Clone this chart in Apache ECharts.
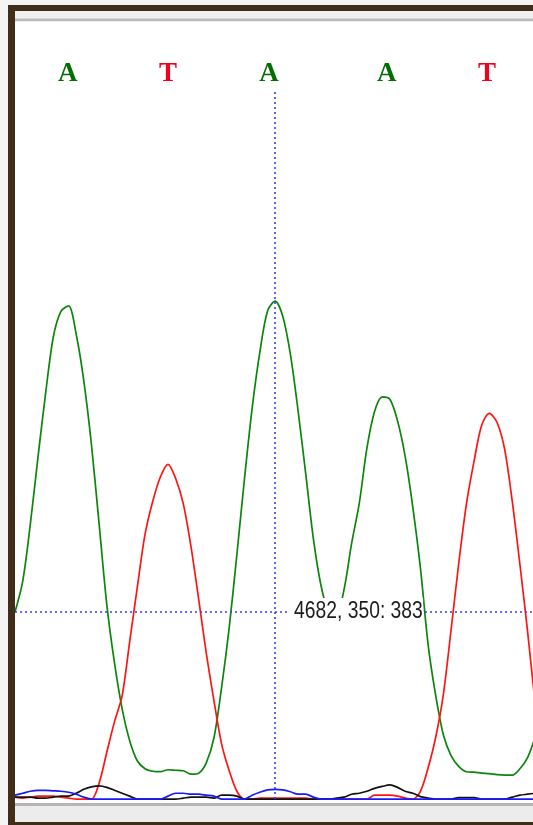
<!DOCTYPE html>
<html>
<head>
<meta charset="utf-8">
<script src="https://cdn.jsdelivr.net/npm/echarts@6/dist/echarts.min.js"></script>
<style>
  html, body { margin: 0; padding: 0; background: #f4f4f4; }
  #chart { width: 533px; height: 825px; }
</style>
</head>
<body>
<div id="chart"></div>
<script>
// Sequencing trace: one intensity sample per scan, four dye channels.
const scanStart = 4648;

// A channel (green)
const traceA = [383, 445, 562, 699, 830, 945, 998, 1009, 951, 855, 724, 562, 398, 279, 185, 119, 78, 62, 57, 56,
  60, 59, 58, 51, 53, 74, 125, 228, 351, 500, 656, 800, 914, 998, 1019, 988, 910, 795, 666, 533,
  437, 383, 379, 428, 523, 605, 718, 793, 823, 818, 774, 701, 597, 472, 316, 211, 131, 89, 67, 56,
  55, 53, 52, 50, 49, 49, 62, 85, 127];

// T channel (red)
const traceT = [4, 2, 4, 6, 6, 6, 4, 2, 0, 0, 0, 33, 96, 158, 211, 323, 435, 542, 609, 659,
  685, 656, 604, 517, 410, 299, 202, 113, 58, 16, 0, 0, 2, 2, 2, 2, 2, 2, 2, 0,
  0, 0, 0, 0, 0, 0, 0, 8, 8, 8, 6, 2, 0, 16, 64, 127, 215, 346, 482, 603,
  691, 765, 789, 771, 716, 609, 480, 343, 193];

// C channel (blue)
const traceC = [8, 12, 16, 18, 18, 17, 16, 14, 10, 4, 0, 0, 0, 0, 0, 0, 0, 0, 0, 0,
  6, 12, 12, 10, 10, 8, 6, 0, 0, 0, 0, 8, 14, 19, 20, 19, 15, 10, 10, 4,
  0, 0, 0, 0, 0, 0, 0, 0, 0, 0, 0, 0, 0, 0, 0, 0, 0, 0, 0, 0,
  0, 0, 0, 0, 0, 0, 0, 0, 0];

// G channel (black)
const traceG = [4, 4, 4, 2, 2, 4, 6, 6, 12, 20, 25, 27, 24, 18, 12, 6, 0, 0, 0, 0,
  0, 0, 2, 4, 4, 4, 2, 8, 8, 6, 0, 0, 0, 0, 0, 0, 0, 0, 0, 0,
  0, 0, 2, 4, 10, 12, 16, 22, 26, 29, 24, 16, 12, 5, 2, 0, 0, 0, 3, 3,
  3, 0, 0, 0, 0, 4, 8, 10, 12];

// Base calls and their scan positions
const baseCalls = ['A', 'T', 'A', 'A', 'T'];
const basePositions = [4654.9, 4668.0, 4681.2, 4696.6, 4709.7];
const callRowLevel = 1484;

// Cursor readout: scan, base number, intensity
const cursorScan = 4682;
const cursorBase = 350;
const cursorValue = 383;
const cursorTop = 1450;

const colors = { A: '#0c850c', T: '#ff1414', C: '#1818ff', G: '#111111' };
const callColors = { A: '#006e00', T: '#f0001e' };

function pairs(trace) {
  return trace.map((v, i) => [scanStart + i, v]);
}

const chart = echarts.init(document.getElementById('chart'), null, { renderer: 'canvas' });

function lineSeries(name, trace, color) {
  return {
    name: name,
    type: 'line',
    data: pairs(trace),
    showSymbol: false,
    symbol: 'none',
    smooth: 0.3,
    animation: false,
    lineStyle: { color: color, width: 1.7 },
    z: 3
  };
}

const option = {
  animation: false,
  backgroundColor: 'transparent',
  grid: {
    left: 15, right: 0, top: 21, bottom: 22,
    show: true, backgroundColor: '#ffffff', borderWidth: 0
  },
  xAxis: {
    type: 'value', min: scanStart, max: 4715.71,
    show: false, splitLine: { show: false }
  },
  yAxis: {
    type: 'value', min: -8, max: 1592,
    show: false, splitLine: { show: false }
  },
  series: [
    lineSeries('A', traceA, colors.A),
    lineSeries('T', traceT, colors.T),
    lineSeries('G', traceG, colors.G),
    Object.assign(lineSeries('C', traceC, colors.C), {
      markLine: {
        silent: true,
        symbol: 'none',
        label: { show: false },
        lineStyle: { color: '#3a3aff', type: [2, 3], width: 1.6 },
        data: [
          [{ coord: [cursorScan, 0] }, { coord: [cursorScan, cursorTop] }],
          [{ coord: [scanStart, cursorValue] }, { coord: [4715.71, cursorValue] }]
        ]
      }
    }),
    {
      name: 'calls',
      type: 'scatter',
      symbolSize: 1,
      itemStyle: { color: 'rgba(0,0,0,0)' },
      z: 5,
      data: baseCalls.map((b, i) => ({
        value: [basePositions[i], callRowLevel],
        label: {
          show: true,
          position: 'inside',
          formatter: b,
          color: callColors[b],
          opacity: 1,
          textBorderWidth: 0,
          fontFamily: 'Liberation Serif',
          fontWeight: 'bold',
          fontSize: 27
        }
      }))
    }
  ]
};

chart.setOption(option);

// Frame and the cursor readout box drawn over the traces
const p = chart.convertToPixel({ gridIndex: 0 }, [cursorScan, cursorValue]);
const W = 533, H = 825;
chart.setOption({
  graphic: [
    // outer frame
    { type: 'rect', z: 50, shape: { x: 8, y: 5, width: 7, height: H - 5 }, style: { fill: '#402d1a' } },
    { type: 'rect', z: 50, shape: { x: 8, y: 5, width: W - 8, height: 6 }, style: { fill: '#402d1a' } },
    { type: 'rect', z: 50, shape: { x: 8, y: 822, width: W - 8, height: 3 }, style: { fill: '#402d1a' } },
    // header strip
    { type: 'rect', z: 50, shape: { x: 15, y: 11, width: W - 15, height: 8 }, style: { fill: '#f0f0f0' } },
    { type: 'rect', z: 50, shape: { x: 15, y: 18.5, width: W - 15, height: 2.8 }, style: { fill: '#bcbcbc' } },
    // footer strip
    { type: 'rect', z: 50, shape: { x: 15, y: 803, width: W - 15, height: 3 }, style: { fill: '#b6b6b6' } },
    { type: 'rect', z: 50, shape: { x: 15, y: 806, width: W - 15, height: 16 }, style: { fill: '#ececec' } },
    // readout
    { type: 'rect', z: 100, shape: { x: p[0] + 14, y: p[1] - 14, width: 134, height: 27 }, style: { fill: '#ffffff' } },
    {
      type: 'text', z: 101, x: p[0] + 19, y: p[1], scaleY: 1.2,
      style: {
        text: cursorScan + ', ' + cursorBase + ': ' + cursorValue,
        x: 0, y: 0,
        fill: '#1c1c1c',
        font: '19.3px "Liberation Sans"',
        verticalAlign: 'middle',
        align: 'left'
      }
    }
  ]
});
</script>
</body>
</html>
